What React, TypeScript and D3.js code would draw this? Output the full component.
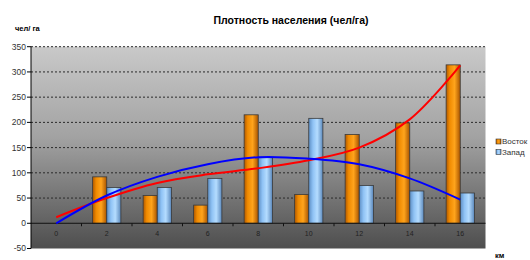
import React from "react";
import * as d3 from "d3";

const categories = ["0", "2", "4", "6", "8", "10", "12", "14", "16"];
const vostok: (number | null)[] = [null, 92, 55, 36, 215, 57, 176, 199, 314];
const zapad: (number | null)[] = [null, 71, 71, 89, 130, 208, 75, 64, 60];
const trendVostok = [12, 50, 80, 97, 109, 125, 150, 206, 313];
const trendZapad = [0, 55, 92, 117, 131, 128, 117, 89, 47];
const yTicks = [-50, 0, 50, 100, 150, 200, 250, 300, 350];
const title = "Плотность населения (чел/га)";
const yTitle = "чел/ га";
const xTitle = "км";
const seriesNames = ["Восток", "Запад"];

const W = 530;
const H = 260;
const left = 31;
const right = 485.5;
const top = 46.7;
const bottom = 248.5;

export default function App() {
  const x = d3.scaleBand<string>().domain(categories).range([left, right]).padding(0);
  const y = d3.scaleLinear().domain([-50, 350]).range([bottom, top]);
  const bw = x.bandwidth();
  const barW = bw * 0.28;
  const cx = (c: string) => (x(c) as number) + bw / 2;

  const line = d3
    .line<number>()
    .x((_, i) => cx(categories[i]))
    .y((d) => y(d))
    .curve(d3.curveCatmullRom.alpha(0.5));

  const font = "Arial, 'Liberation Sans', sans-serif";

  return (
    <svg
      width={W}
      height={H}
      style={{ position: "absolute", left: 0, top: 0, background: "#fff" }}
      fontFamily={font}
    >
      <defs>
        <linearGradient id="bg" x1="0" y1="0" x2="0" y2="1">
          <stop offset="0" stopColor="#c9c9c9" />
          <stop offset="0.45" stopColor="#a2a2a2" />
          <stop offset="1" stopColor="#4e4e4e" />
        </linearGradient>
        <linearGradient id="gOrange" x1="0" y1="0" x2="1" y2="0">
          <stop offset="0" stopColor="#b05800" />
          <stop offset="0.25" stopColor="#f08a00" />
          <stop offset="0.6" stopColor="#ffa41c" />
          <stop offset="1" stopColor="#a85400" />
        </linearGradient>
        <linearGradient id="gBlue" x1="0" y1="0" x2="1" y2="0">
          <stop offset="0" stopColor="#5d8ec4" />
          <stop offset="0.3" stopColor="#90c3f5" />
          <stop offset="0.6" stopColor="#b4dcff" />
          <stop offset="1" stopColor="#5a88bc" />
        </linearGradient>
      </defs>

      <text x={291} y={24} textAnchor="middle" fontSize={10.5} fontWeight="bold" fill="#000">
        {title}
      </text>
      <text x={15} y={31} fontSize={7.5} fontWeight="bold" fill="#000">
        {yTitle}
      </text>
      <text x={495} y={258} fontSize={7.5} fontWeight="bold" fill="#000">
        {xTitle}
      </text>

      <rect x={left} y={top} width={right - left} height={bottom - top} fill="url(#bg)" />

      {yTicks
        .filter((t) => t > 0)
        .map((t) => (
          <line
            key={"g" + t}
            x1={left}
            x2={right}
            y1={y(t)}
            y2={y(t)}
            stroke="#2a2a2a"
            strokeWidth={1}
            strokeDasharray="2,2"
          />
        ))}

      {yTicks.map((t) => (
        <g key={"yt" + t}>
          <line x1={left - 4} x2={left} y1={y(t)} y2={y(t)} stroke="#000" />
          <text
            x={26}
            y={y(t)}
            dy="0.35em"
            textAnchor="end"
            fontSize={8.5}
            fill="#333"
          >
            {t}
          </text>
        </g>
      ))}

      {categories.map((c, i) => {
        const v = vostok[i];
        const z = zapad[i];
        const c0 = cx(c);
        return (
          <g key={"b" + c}>
            {v != null && (
              <rect
                x={c0 - barW}
                y={y(v)}
                width={barW}
                height={y(0) - y(v)}
                fill="url(#gOrange)"
                stroke="#3a3a3a"
                strokeWidth={0.8}
              />
            )}
            {z != null && (
              <rect
                x={c0}
                y={y(z)}
                width={barW}
                height={y(0) - y(z)}
                fill="url(#gBlue)"
                stroke="#3a3a3a"
                strokeWidth={0.8}
              />
            )}
          </g>
        );
      })}

      <line x1={left} x2={right} y1={y(0)} y2={y(0)} stroke="#111" strokeWidth={1} />
      {categories.slice(1).map((c) => (
        <line
          key={"xt" + c}
          x1={x(c) as number}
          x2={x(c) as number}
          y1={y(0)}
          y2={y(0) + 3}
          stroke="#111"
        />
      ))}
      <line x1={left} x2={left} y1={top} y2={bottom} stroke="#000" strokeWidth={1} />

      {categories.map((c) => (
        <text
          key={"xl" + c}
          x={cx(c)}
          y={y(0) + 10}
          dy="0.35em"
          textAnchor="middle"
          fontSize={7}
          fill="#222"
        >
          {c}
        </text>
      ))}

      <path d={line(trendVostok) || ""} fill="none" stroke="#ff0000" strokeWidth={2} />
      <path d={line(trendZapad) || ""} fill="none" stroke="#0000ff" strokeWidth={2} />

      <g>
        <rect x={496} y={139} width={5} height={5} fill="url(#gOrange)" stroke="#333" strokeWidth={0.6} />
        <text x={502} y={141.5} dy="0.35em" fontSize={8} fill="#333">
          {seriesNames[0]}
        </text>
        <rect x={496} y={149.5} width={5} height={5} fill="url(#gBlue)" stroke="#333" strokeWidth={0.6} />
        <text x={502} y={152} dy="0.35em" fontSize={8} fill="#333">
          {seriesNames[1]}
        </text>
      </g>
    </svg>
  );
}
